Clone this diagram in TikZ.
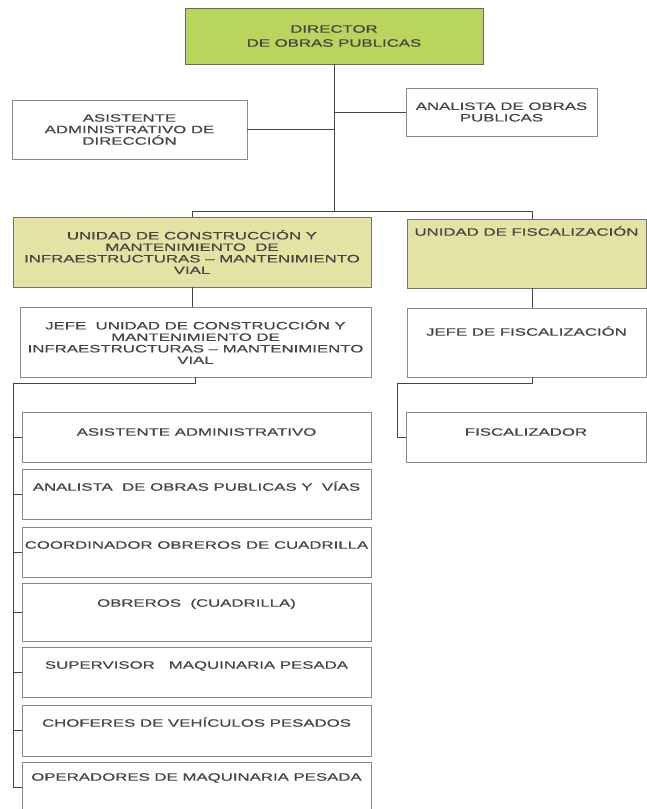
\documentclass[tikz,border=0pt]{standalone}
\usepackage{fontspec}
\setmainfont{Liberation Sans}[FakeStretch=1.57,FakeBold=0.6]
\newcommand\orgfont{\fontsize{10.7}{11.5}\selectfont}
\definecolor{txtgray}{HTML}{454545}
\definecolor{linegray}{HTML}{454545}
\definecolor{boxgray}{HTML}{8A8A8A}
\definecolor{dirgreen}{HTML}{B9D55E}
\definecolor{unitfill}{HTML}{E5E3A4}
\begin{document}
\begin{tikzpicture}[x=1pt,y=-1pt,
  every node/.style={font=\orgfont,text=txtgray},
  orgbox/.style={draw=boxgray,line width=0.6pt,inner sep=0pt,align=center,fill=white},
  dirbox/.style={orgbox,draw=black!60,fill=dirgreen},
  unitbox/.style={orgbox,draw=black!55,fill=unitfill},
  subbox/.style={orgbox,minimum width=349pt,minimum height=50pt},
  lbl/.style={inner sep=0pt,anchor=base},
  conn/.style={draw=linegray,line width=0.8pt}]
\useasboundingbox (0,0) rectangle (647,809);
\fill[white] (0,0) rectangle (647,809);

% top level
\node[dirbox,minimum width=298pt,minimum height=56pt,font=\fontsize{10.7}{14}\selectfont] (dir) at (334,36) {DIRECTOR\\DE OBRAS PUBLICAS};
\node[orgbox,minimum width=235pt,minimum height=59pt] (asis) at (129.5,129.5) {ASISTENTE\\ADMINISTRATIVO DE\\DIRECCIÓN};
\node[orgbox,minimum width=191pt,minimum height=48pt] (anal) at (501.5,112) {ANALISTA DE OBRAS\\PUBLICAS};

% units
\node[unitbox,minimum width=358pt,minimum height=70pt] (uc) at (192,252) {UNIDAD DE CONSTRUCCIÓN Y\\MANTENIMIENTO\ \ DE\\INFRAESTRUCTURAS -- MANTENIMIENTO\\VIAL};
\node[unitbox,minimum width=239pt,minimum height=69pt] (fisc) at (526.5,253.5) {};
\node[lbl] (fisct) at ([yshift=-17]fisc.north) {UNIDAD DE FISCALIZACIÓN};

\node[orgbox,minimum width=351pt,minimum height=70pt] (jefe) at (195.5,342) {JEFE\ \ UNIDAD DE CONSTRUCCIÓN Y\\MANTENIMIENTO DE\\INFRAESTRUCTURAS -- MANTENIMIENTO\\VIAL};
\node[orgbox,minimum width=239pt,minimum height=69pt] (jfisc) at (526.5,342.5) {};
\node[lbl] (jfisct) at ([yshift=-28]jfisc.north) {JEFE DE FISCALIZACIÓN};

\node[orgbox,minimum width=240pt,minimum height=50pt] (fz) at (526,437) {};
\node[lbl] (fzt) at ([yshift=-24]fz.north) {FISCALIZADOR};

% subordinate boxes
\node[subbox] (s1) at (196.5,437) {};
\node[subbox] (s2) at (196.5,494) {};
\node[subbox] (s3) at (196.5,552) {};
\node[subbox,minimum height=58pt] (s4) at (196.5,612) {};
\node[subbox] (s5) at (196.5,672) {};
\node[subbox,minimum height=51pt] (s6) at (196.5,730.5) {};
\node[subbox] (s7) at (196.5,787) {};
\node[lbl] (s1t) at ([yshift=-24]s1.north) {ASISTENTE ADMINISTRATIVO};
\node[lbl] (s2t) at ([yshift=-22]s2.north) {ANALISTA\ \ DE OBRAS PUBLICAS Y\ \ VÍAS};
\node[lbl] (s3t) at ([yshift=-22]s3.north) {COORDINADOR OBREROS DE CUADRILLA};
\node[lbl] (s4t) at ([yshift=-24]s4.north) {OBREROS\ \ (CUADRILLA)};
\node[lbl] (s5t) at ([yshift=-22]s5.north) {SUPERVISOR\ \ \ MAQUINARIA PESADA};
\node[lbl] (s6t) at ([yshift=-22]s6.north) {CHOFERES DE VEHÍCULOS PESADOS};
\node[lbl] (s7t) at ([yshift=-19]s7.north) {OPERADORES DE MAQUINARIA PESADA};

% bus coordinates
\coordinate (busL) at (192,211);
\coordinate (busR) at (532,211);
\coordinate (fbus) at (397,383);
\coordinate (sbus) at (13,383);

% connectors
\draw[conn] (dir.south) -- (dir.south |- busL);
\draw[conn] (asis.east) -- (asis.east -| dir.south);
\draw[conn] (anal.west) -- (anal.west -| dir.south);
\draw[conn] (uc.north) -- (uc.north |- busL) -- (busR) -- (busR |- fisc.north);
\draw[conn] (uc.south) -- (uc.south |- jefe.north);
\draw[conn] (busR |- fisc.south) -- (busR |- jfisc.north);
\draw[conn] (busR |- jfisc.south) |- (fbus) |- (fz.west);
\draw[conn] (jefe.south) |- (sbus) -- (sbus |- s7.west);
\foreach \s in {s1,s2,s3,s4,s5,s6,s7}{
  \draw[conn] (sbus |- \s.west) -- (\s.west);
}
\end{tikzpicture}
\end{document}
